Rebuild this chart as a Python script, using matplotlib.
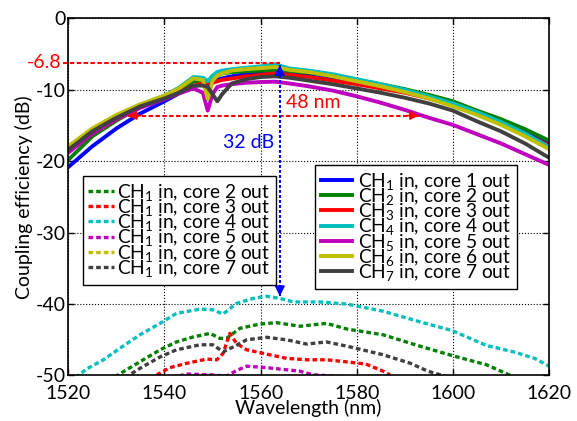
import numpy as np
import matplotlib.pyplot as plt

plt.rcParams['font.family'] = ['Lato', 'DejaVu Sans']
plt.rcParams['mathtext.fontset'] = 'custom'
plt.rcParams['mathtext.rm'] = 'Lato'
plt.rcParams['mathtext.it'] = 'Lato:italic'
plt.rcParams['axes.unicode_minus'] = False

colors = ['#0000ff', '#008000', '#ff0000', '#00bfbf', '#bf00bf', '#bfbf00', '#404040']

# CHn in, core n out (dB)
wl_main = [1520, 1525, 1530, 1535, 1540, 1543, 1546, 1548, 1549, 1550, 1551, 1552, 1554, 1557, 1560, 1563,
           1566, 1570, 1575, 1580, 1585, 1590, 1595, 1600, 1605, 1610, 1615, 1620]
ch1 = [-20.8, -17.9, -15.4, -13.3, -11.6, -10.5, -9.5, -9.2, -9.3, -9.0, -8.6, -8.4, -8.1, -7.8, -7.5, -7.3,
       -7.6, -7.9, -8.3, -8.9, -9.5, -10.2, -11.0, -11.9, -13.0, -14.3, -15.8, -17.4]
ch2 = [-19.8, -16.5, -14.3, -12.4, -11.0, -10.0, -8.8, -8.7, -8.7, -8.6, -8.0, -7.7, -7.5, -7.4, -7.3, -7.3,
       -7.35, -7.6, -8.0, -8.6, -9.2, -9.9, -10.7, -11.6, -12.9, -14.1, -15.5, -17.1]
ch3 = [-18.6, -16.1, -14.1, -12.4, -11.2, -10.3, -9.4, -9.1, -9.0, -9.0, -8.8, -8.6, -8.4, -8.1, -7.9, -7.7,
       -7.9, -8.2, -8.7, -9.2, -9.8, -10.4, -11.2, -12.1, -13.3, -14.6, -16.2, -17.8]
ch4 = [-18.1, -15.6, -13.7, -12.1, -10.8, -9.7, -8.2, -8.3, -8.8, -8.0, -7.5, -7.3, -7.1, -6.9, -6.7, -6.4,
       -7.0, -7.3, -7.8, -8.5, -9.2, -10.0, -10.9, -11.9, -13.1, -14.5, -16.1, -18.0]
ch5 = [-18.8, -16.1, -14.1, -12.5, -11.3, -10.5, -9.8, -10.4, -12.9, -10.6, -9.6, -9.4, -9.2, -9.0, -8.9, -8.85,
       -9.1, -9.5, -10.1, -10.9, -11.8, -12.8, -13.9, -14.9, -16.2, -17.5, -19.0, -20.5]
ch6 = [-17.9, -15.4, -13.5, -12.0, -10.8, -9.8, -8.4, -8.6, -11.3, -8.7, -8.0, -7.7, -7.3, -7.1, -6.95, -6.8,
       -7.2, -7.5, -8.1, -8.8, -9.5, -10.3, -11.2, -12.3, -13.5, -14.9, -16.5, -18.3]
ch7 = [-18.4, -15.8, -13.9, -12.3, -11.2, -10.4, -9.4, -9.4, -9.6, -10.6, -11.6, -10.6, -9.1, -8.5, -8.2, -8.1,
       -8.3, -8.7, -9.2, -9.8, -10.4, -11.1, -11.9, -12.9, -14.4, -15.8, -17.5, -19.5]

# CH1 in, core k out (crosstalk, dB)
wl_c2 = [1529.7, 1532.1, 1535.6, 1539.1, 1542.5, 1546.0, 1549.5, 1551.5, 1552.9, 1555.7, 1559.8, 1563.3,
         1568.2, 1573.7, 1578.0, 1585.5, 1592.7, 1599.8, 1607.0, 1612.0]
xt_c2 = [-50.2, -49.2, -47.8, -46.4, -45.3, -44.6, -44.1, -44.8, -44.8, -43.4, -42.8, -42.6,
         -43.1, -42.7, -43.5, -44.3, -45.8, -47.2, -48.5, -50.0]
wl_c3 = [1535.3, 1537.7, 1541.1, 1544.6, 1548.8, 1550.9, 1552.2, 1553.6, 1555.0, 1557.1, 1561.2, 1565.4,
         1569.6, 1573.7, 1578.0, 1581.9, 1585.5, 1586.9]
xt_c3 = [-50.3, -50.2, -48.9, -48.3, -47.7, -47.8, -46.9, -44.1, -45.5, -46.4, -47.0, -47.6,
         -47.8, -47.8, -48.1, -48.4, -49.4, -49.9]
wl_c4 = [1521.5, 1523.8, 1527.3, 1530.7, 1534.9, 1539.1, 1542.5, 1547.4, 1550.1, 1552.2, 1555.0, 1558.5,
         1561.2, 1564.0, 1566.8, 1572.3, 1578.0, 1585.5, 1592.7, 1599.8, 1607.0, 1612.7, 1617.0, 1620.0]
xt_c4 = [-50.3, -49.1, -47.8, -46.2, -44.3, -42.7, -41.3, -40.7, -40.8, -41.4, -39.9, -39.2,
         -38.9, -39.2, -39.7, -39.7, -40.0, -41.0, -42.4, -43.7, -45.8, -46.7, -47.6, -48.7]
wl_c5 = [1541.5, 1544.6, 1549.5, 1552.9, 1555.0, 1557.1, 1561.2, 1565.4, 1568.2, 1570.9, 1578.0]
xt_c5 = [-50.3, -49.8, -49.9, -50.1, -49.3, -48.7, -48.9, -49.2, -49.4, -49.9, -50.2]
wl_c6 = []
xt_c6 = []
wl_c7 = [1531.8, 1534.9, 1539.1, 1542.5, 1547.4, 1550.1, 1552.2, 1554.3, 1557.1, 1561.2, 1565.4, 1569.6,
         1573.7, 1578.0, 1585.5, 1591.2, 1594.8, 1598.4]
xt_c7 = [-50.3, -49.0, -47.4, -46.4, -45.7, -45.7, -46.7, -46.0, -45.0, -44.65, -45.0, -45.6,
         -45.3, -45.9, -47.1, -48.3, -49.4, -50.1]

fig = plt.figure(figsize=(5.77, 4.21), dpi=100)
ax = fig.add_axes([0.1184, 0.1081, 0.8331, 0.8480])

xt_sets = [(wl_c2, xt_c2), (wl_c3, xt_c3), (wl_c4, xt_c4), (wl_c5, xt_c5), (wl_c6, xt_c6), (wl_c7, xt_c7)]
xt_lines = []
for k, (w, d) in enumerate(xt_sets):
    ln, = ax.plot(w, d, color=colors[k + 1], lw=2.4, dashes=(1.4, 0.9),
                  label=r'CH$_{\mathrm{1}}$ in, core %d out' % (k + 2))
    xt_lines.append(ln)

main_lines = []
for k, d in enumerate([ch1, ch2, ch3, ch4, ch5, ch6, ch7]):
    ln, = ax.plot(wl_main, d, color=colors[k], lw=2.8,
                  label=r'CH$_{\mathrm{%d}}$ in, core %d out' % (k + 1, k + 1))
    main_lines.append(ln)

# annotations
ax.plot([1518.9, 1564.0], [-6.2, -6.2], color='red', lw=1.5, dashes=(2.1, 1.2), clip_on=False)
ax.text(1518.6, -6.2, '-6.8', color='red', fontsize=14, ha='right', va='center')

ax.plot([1532.4, 1592.9], [-13.6, -13.6], color='red', lw=1.5, dashes=(2.1, 1.2))
for x0, x1 in [(1535.0, 1532.4), (1590.3, 1592.9)]:
    ax.annotate('', xy=(x1, -13.6), xytext=(x0, -13.6),
                arrowprops=dict(arrowstyle='-|>,head_length=0.5,head_width=0.25', color='red',
                                lw=1.2, mutation_scale=10, shrinkA=0, shrinkB=0))
ax.text(1571.0, -11.8, '48 nm', color='red', fontsize=14, ha='center', va='center')

ax.plot([1564.0, 1564.0], [-6.5, -38.9], color='blue', lw=1.5, dashes=(1.4, 1.0))
for y0, y1 in [(-8.0, -6.5), (-37.4, -38.9)]:
    ax.annotate('', xy=(1564.0, y1), xytext=(1564.0, y0),
                arrowprops=dict(arrowstyle='-|>,head_length=0.6,head_width=0.3', color='blue',
                                lw=1.2, mutation_scale=10, shrinkA=0, shrinkB=0))
ax.text(1557.5, -17.4, '32 dB', color='blue', fontsize=14, ha='center', va='center')

ax.set_xlim(1520, 1620)
ax.set_ylim(-50, 0)
ax.set_xticks([1520, 1540, 1560, 1580, 1600, 1620])
ax.set_yticks([0, -10, -20, -30, -40, -50])
ax.grid(True, color='black', linestyle=':', lw=0.8)
ax.tick_params(direction='in', top=True, right=True, length=4, width=1, labelsize=14, pad=2)
ax.tick_params(axis='x', pad=6.5)
for s in ax.spines.values():
    s.set_linewidth(1.2)
ax.set_xlabel('Wavelength (nm)', fontsize=14, labelpad=-1.5)
ax.set_ylabel('Coupling efficiency (dB)', fontsize=14, labelpad=2)

leg_kw = dict(fontsize=13.8, frameon=True, fancybox=False, framealpha=1, edgecolor='black',
              borderaxespad=0, borderpad=0.3, labelspacing=-0.3)
leg1 = ax.legend(handles=xt_lines, loc='upper left', bbox_to_anchor=(0.030, 0.559),
                 handlelength=1.35, handletextpad=0.15, **leg_kw)
leg1.get_frame().set_linewidth(1.0)
ax.add_artist(leg1)
leg2 = ax.legend(handles=main_lines, loc='upper left', bbox_to_anchor=(0.513, 0.590),
                 handlelength=1.65, handletextpad=0.3, **leg_kw)
leg2.get_frame().set_linewidth(1.0)

plt.savefig('out.png', dpi=100)
